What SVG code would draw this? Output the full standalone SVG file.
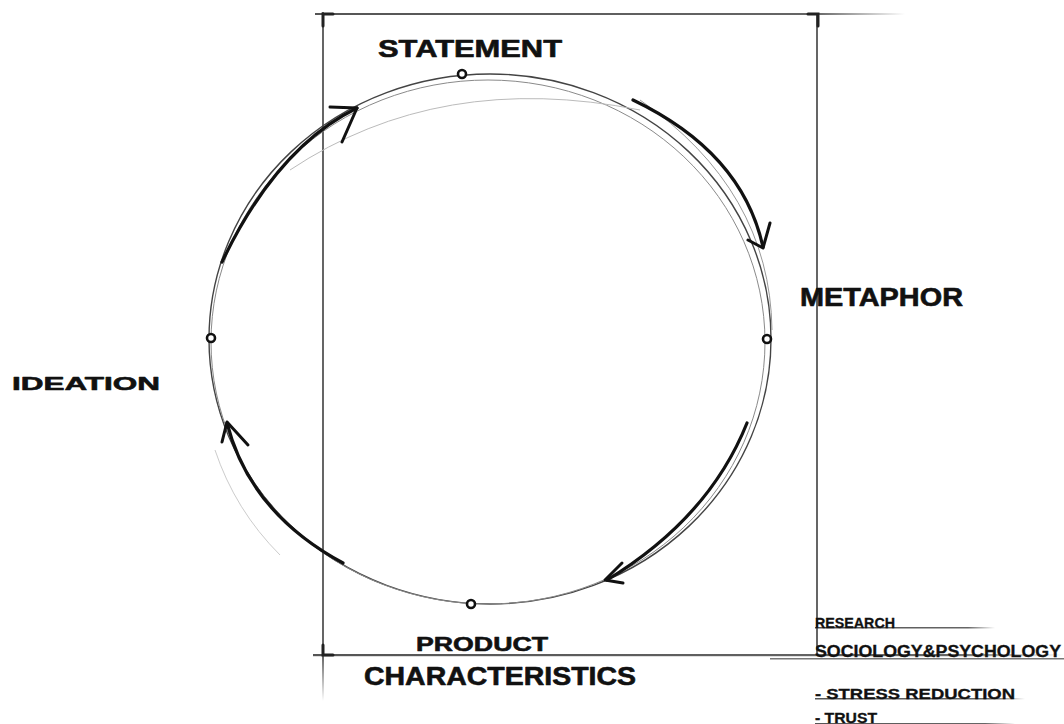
<svg xmlns="http://www.w3.org/2000/svg" width="1064" height="724" viewBox="0 0 1064 724">
<defs>
<linearGradient id="fadeR" x1="0" y1="0" x2="1" y2="0">
<stop offset="0" stop-color="#555"/><stop offset="0.85" stop-color="#666"/><stop offset="1" stop-color="#666" stop-opacity="0"/>
</linearGradient>
<linearGradient id="fadeD" x1="0" y1="0" x2="0" y2="1">
<stop offset="0" stop-color="#666"/><stop offset="1" stop-color="#666" stop-opacity="0"/>
</linearGradient>
<style>
.lbl{font-family:"Liberation Sans",Arial,sans-serif;font-weight:bold;fill:#111;stroke:#111;stroke-width:0.6;stroke-linejoin:round}
.small{font-family:"Liberation Sans",Arial,sans-serif;font-weight:bold;fill:#111;stroke:#111;stroke-width:0.3}
.dot{fill:#fff;stroke:#111;stroke-width:2.6}
.arrow{fill:none;stroke:#111;stroke-width:3.2;stroke-linecap:round;stroke-linejoin:round}
.head{fill:none;stroke:#111;stroke-width:3;stroke-linecap:round;stroke-linejoin:round}
.frame{stroke:#555;stroke-width:1.8;fill:none}
.bracket{stroke:#222;stroke-width:3;fill:none;stroke-linecap:round}
</style>
</defs>
<rect width="1064" height="724" fill="#fff"/>
<g id="frame">
<line x1="323" y1="12" x2="323" y2="656" class="frame"/>
<rect x="322" y="656" width="2" height="45" fill="url(#fadeD)"/>
<rect x="315" y="13" width="590" height="2" fill="url(#fadeR)"/>
<line x1="817" y1="14" x2="817" y2="656" class="frame"/>
<rect x="313" y="654" width="751" height="2.2" fill="url(#fadeR)"/>
<path d="M323 26 V14 H333" class="bracket"/>
<path d="M808 14 H818 V26" class="bracket"/>
<path d="M323 645 V655 H333" class="bracket"/>
</g>
<g id="cycle">
<ellipse cx="490" cy="339" rx="281" ry="265" fill="none" stroke="#444" stroke-width="1.4"/>
<ellipse cx="488" cy="342" rx="277" ry="262" fill="none" stroke="#8a8a8a" stroke-width="1"/>
<path d="M290 170 Q 440 70 640 110" fill="none" stroke="#bbb" stroke-width="1"/>
<path d="M215 450 Q 235 510 280 555" fill="none" stroke="#ccc" stroke-width="1"/>
<path d="M640 100 Q 770 190 772 330" fill="none" stroke="#999" stroke-width="1"/>
</g>
<g id="connectors">
<path d="M222 262 Q 277 147 357 108" class="arrow"/>
<path d="M330 107 L357 108 L342 142" class="head"/>
<path d="M633 100 Q 742 152 763 247" class="arrow"/>
<path d="M748 240 L763 248 L770 223" class="head"/>
<path d="M747 423 Q 709 518 607 580" class="arrow"/>
<path d="M622 563 L605 580 L623 583" class="head"/>
<path d="M343 563 Q 250 513 227 423" class="arrow"/>
<path d="M222 442 L227 422 L248 445" class="head"/>
</g>
<g id="node-statement">
<circle cx="462" cy="74" r="4" class="dot"/>
<text x="378" y="57" class="lbl" font-size="23" textLength="184" lengthAdjust="spacingAndGlyphs">STATEMENT</text>
</g>
<g id="node-metaphor">
<circle cx="767" cy="339" r="4" class="dot"/>
<text x="800" y="306" class="lbl" font-size="25" textLength="163" lengthAdjust="spacingAndGlyphs">METAPHOR</text>
</g>
<g id="node-product">
<circle cx="471" cy="604" r="4" class="dot"/>
<text x="416" y="651" class="lbl" font-size="20" textLength="132" lengthAdjust="spacingAndGlyphs">PRODUCT</text>
<text x="364" y="685" class="lbl" font-size="25" textLength="272" lengthAdjust="spacingAndGlyphs">CHARACTERISTICS</text>
</g>
<g id="node-ideation">
<circle cx="211" cy="338" r="4" class="dot"/>
<text x="12" y="390" class="lbl" font-size="19" textLength="148" lengthAdjust="spacingAndGlyphs">IDEATION</text>
</g>
<g id="notes">
<rect x="815" y="627" width="180" height="1.5" fill="url(#fadeR)"/>
<text x="815" y="628" class="small" font-size="14" textLength="80" lengthAdjust="spacingAndGlyphs">RESEARCH</text>
<rect x="770" y="658" width="294" height="1.5" fill="#777"/>
<text x="815" y="657" class="small" font-size="16" textLength="246" lengthAdjust="spacingAndGlyphs">SOCIOLOGY&amp;PSYCHOLOGY</text>
<rect x="815" y="698" width="210" height="1.5" fill="url(#fadeR)"/>
<text x="815" y="699" class="small" font-size="15" textLength="200" lengthAdjust="spacingAndGlyphs">- STRESS REDUCTION</text>
<rect x="815" y="723" width="200" height="1" fill="url(#fadeR)"/>
<text x="815" y="723" class="small" font-size="14" textLength="62" lengthAdjust="spacingAndGlyphs">- TRUST</text>
</g>
</svg>
